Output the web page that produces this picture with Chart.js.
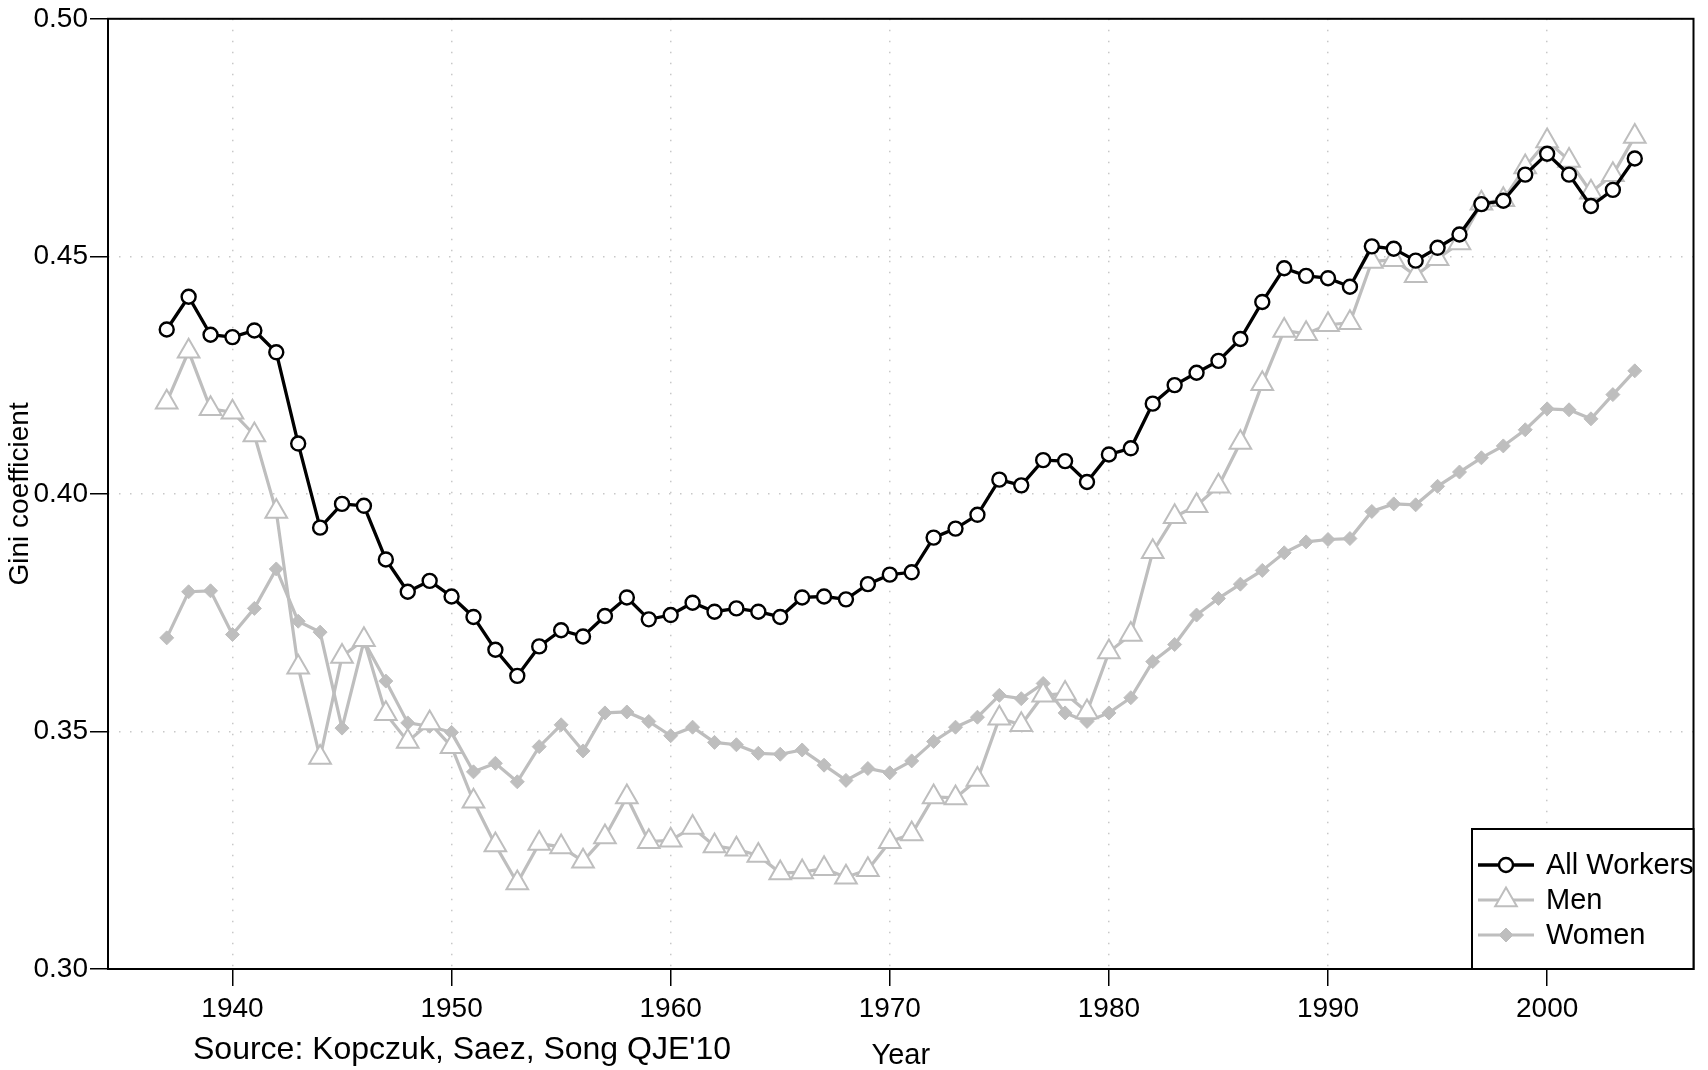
<!DOCTYPE html>
<html><head><meta charset="utf-8">
<script src="https://cdn.jsdelivr.net/npm/chart.js@4.4.1/dist/chart.umd.min.js"></script>
<style>html,body{margin:0;padding:0;background:#fff;overflow:hidden}canvas{display:block}</style>
</head><body>
<canvas id="c" width="1708" height="1070" style="width:1708px;height:1070px"></canvas>
<script>
// ---- data ----
const years = [1937,1938,1939,1940,1941,1942,1943,1944,1945,1946,1947,1948,1949,1950,1951,1952,1953,1954,1955,1956,1957,1958,1959,1960,1961,1962,1963,1964,1965,1966,1967,1968,1969,1970,1971,1972,1973,1974,1975,1976,1977,1978,1979,1980,1981,1982,1983,1984,1985,1986,1987,1988,1989,1990,1991,1992,1993,1994,1995,1996,1997,1998,1999,2000,2001,2002,2003,2004];
const allWorkers = [0.4346,0.4415,0.4335,0.4330,0.4344,0.4298,0.4106,0.3929,0.3979,0.3975,0.3862,0.3794,0.3817,0.3784,0.3741,0.3672,0.3617,0.3679,0.3713,0.3700,0.3743,0.3782,0.3736,0.3745,0.3771,0.3752,0.3759,0.3752,0.3741,0.3782,0.3784,0.3778,0.3810,0.3830,0.3835,0.3908,0.3927,0.3956,0.4030,0.4018,0.4071,0.4069,0.4025,0.4083,0.4096,0.4190,0.4229,0.4255,0.4280,0.4326,0.4404,0.4475,0.4459,0.4454,0.4436,0.4521,0.4516,0.4491,0.4518,0.4546,0.4610,0.4617,0.4672,0.4716,0.4672,0.4606,0.4640,0.4706];
const men = [0.4193,0.4300,0.4179,0.4172,0.4124,0.3963,0.3635,0.3445,0.3658,0.3693,0.3537,0.3479,0.3518,0.3468,0.3353,0.3261,0.3181,0.3264,0.3257,0.3227,0.3278,0.3362,0.3268,0.3271,0.3298,0.3259,0.3252,0.3239,0.3202,0.3204,0.3211,0.3193,0.3209,0.3268,0.3284,0.3362,0.3360,0.3399,0.3528,0.3514,0.3576,0.3580,0.3541,0.3667,0.3704,0.3878,0.3952,0.3975,0.4016,0.4108,0.4232,0.4344,0.4337,0.4356,0.4360,0.4489,0.4493,0.4459,0.4495,0.4528,0.4612,0.4619,0.4688,0.4743,0.4702,0.4635,0.4672,0.4752];
const women = [0.3697,0.3794,0.3796,0.3704,0.3759,0.3842,0.3732,0.3709,0.3507,0.3690,0.3606,0.3518,0.3511,0.3498,0.3415,0.3433,0.3394,0.3468,0.3514,0.3459,0.3539,0.3541,0.3521,0.3491,0.3509,0.3477,0.3472,0.3454,0.3452,0.3461,0.3429,0.3397,0.3422,0.3413,0.3438,0.3479,0.3509,0.3530,0.3576,0.3569,0.3601,0.3539,0.3521,0.3539,0.3571,0.3647,0.3683,0.3745,0.3780,0.3810,0.3839,0.3876,0.3899,0.3904,0.3906,0.3963,0.3979,0.3977,0.4016,0.4046,0.4076,0.4101,0.4135,0.4179,0.4177,0.4158,0.4209,0.4259];
const seriesNames = ['All Workers', 'Men', 'Women'];
const xTicks = [1940,1950,1960,1970,1980,1990,2000];
const yTicks = [0.30,0.35,0.40,0.45,0.50];
const xTitle = 'Year';
const yTitle = 'Gini coefficient';
const sourceNote = "Source: Kopczuk, Saez, Song QJE'10";

// ---- styles ----
const FONT = "'Liberation Sans', Arial, Helvetica, sans-serif";
const GRAY = '#bebebe';
const toXY = (vals) => years.map((yr, i) => ({x: yr, y: vals[i]}));

const datasets = [
  {label: seriesNames[0], data: toXY(allWorkers), borderColor: '#000', borderWidth: 3.3,
   pointStyle: 'circle', pointRadius: 7, pointBackgroundColor: '#fff', pointBorderColor: '#000', pointBorderWidth: 2.4},
  {label: seriesNames[1], data: toXY(men), borderColor: GRAY, borderWidth: 3.2,
   pointStyle: 'triangle', pointRadius: 12.5, pointBackgroundColor: '#fff', pointBorderColor: GRAY, pointBorderWidth: 2},
  {label: seriesNames[2], data: toXY(women), borderColor: GRAY, borderWidth: 3.2,
   pointStyle: 'rectRot', pointRadius: 7, pointBackgroundColor: GRAY, pointBorderColor: GRAY, pointBorderWidth: 1}
];
datasets.forEach(d => { d.tension = 0; d.fill = false; d.pointHoverRadius = d.pointRadius; });

function drawMarker(ctx, ds, x, y) {
  ctx.save();
  ctx.lineWidth = ds.pointBorderWidth;
  ctx.strokeStyle = ds.pointBorderColor;
  ctx.fillStyle = ds.pointBackgroundColor;
  const r = ds.pointRadius;
  ctx.beginPath();
  if (ds.pointStyle === 'circle') {
    ctx.arc(x, y, r, 0, Math.PI * 2);
  } else if (ds.pointStyle === 'triangle') {
    for (let k = 0; k < 3; k++) {
      const a = k * 2 * Math.PI / 3;
      const px = x + Math.sin(a) * r, py = y - Math.cos(a) * r;
      if (k === 0) ctx.moveTo(px, py); else ctx.lineTo(px, py);
    }
    ctx.closePath();
  } else {
    ctx.moveTo(x - r, y); ctx.lineTo(x, y - r); ctx.lineTo(x + r, y); ctx.lineTo(x, y + r); ctx.closePath();
  }
  ctx.fill(); ctx.stroke();
  ctx.restore();
}

const framePlugin = {
  id: 'frame',
  beforeDatasetsDraw(chart) {
    const {ctx, chartArea: a} = chart;
    ctx.save();
    ctx.strokeStyle = '#000';
    ctx.lineWidth = 2;
    ctx.strokeRect(a.left, a.top, a.right - a.left, a.bottom - a.top);
    ctx.restore();
  },
  afterDraw(chart) {
    const {ctx, chartArea: a} = chart;
    // legend box (bottom-right inside plot)
    const bx = 1472, by = 829, bw = a.right - bx, bh = a.bottom - by;
    ctx.save();
    ctx.fillStyle = '#fff';
    ctx.fillRect(bx, by, bw, bh);
    ctx.strokeStyle = '#000';
    ctx.lineWidth = 2;
    ctx.strokeRect(bx, by, bw, bh);
    const rows = [865, 900, 935];
    chart.data.datasets.forEach((ds, i) => {
      const y = rows[i];
      ctx.save();
      ctx.strokeStyle = ds.borderColor;
      ctx.lineWidth = ds.borderWidth;
      ctx.beginPath(); ctx.moveTo(1478, y); ctx.lineTo(1534, y); ctx.stroke();
      ctx.restore();
      drawMarker(ctx, ds, 1506, y);
      ctx.fillStyle = '#000';
      ctx.font = '29px ' + FONT;
      ctx.textAlign = 'left';
      ctx.textBaseline = 'middle';
      ctx.fillText(ds.label, 1546, y + 1);
    });
    // source note
    ctx.fillStyle = '#000';
    ctx.font = '32px ' + FONT;
    ctx.textAlign = 'left';
    ctx.textBaseline = 'alphabetic';
    ctx.fillText(sourceNote, 193, 1059);
    ctx.restore();
  }
};

new Chart(document.getElementById('c'), {
  type: 'line',
  data: {datasets},
  options: {
    responsive: false,
    animation: false,
    devicePixelRatio: 1,
    layout: {padding: {top: 17, right: 2, left: 0, bottom: 0}},
    plugins: {legend: {display: false}, tooltip: {enabled: false}},
    scales: {
      x: {
        type: 'linear',
        min: 1934.32, max: 2006.68,
        afterBuildTicks: (s) => { s.ticks = xTicks.map(v => ({value: v})); },
        afterFit: (s) => { s.height = 101; },
        ticks: {color: '#000', font: {family: FONT, size: 28}, padding: 6, maxRotation: 0,
                callback: (v) => String(v)},
        grid: {color: '#c8c8c8', lineWidth: 1.5, drawTicks: true, tickLength: 17, tickColor: '#000', tickWidth: 1.5},
        border: {display: false, dash: [1.5, 9.5]},
        title: {display: true, text: xTitle, color: '#000', font: {family: FONT, size: 29, lineHeight: 1}, padding: {top: 0, bottom: 0}}
      },
      y: {
        type: 'linear',
        min: 0.30, max: 0.50,
        afterBuildTicks: (s) => { s.ticks = yTicks.map(v => ({value: v})); },
        afterFit: (s) => { s.width = 108; },
        ticks: {color: '#000', font: {family: FONT, size: 28}, padding: 2,
                callback: (v) => Number(v).toFixed(2)},
        grid: {color: '#c8c8c8', lineWidth: 1.5, drawTicks: true, tickLength: 18, tickColor: '#000', tickWidth: 1.5},
        border: {display: false, dash: [1.5, 9.5]},
        title: {display: true, text: yTitle, color: '#000', font: {family: FONT, size: 28, lineHeight: 1}, padding: {top: 6, bottom: 0}}
      }
    }
  },
  plugins: [framePlugin]
});
</script>
</body></html>
